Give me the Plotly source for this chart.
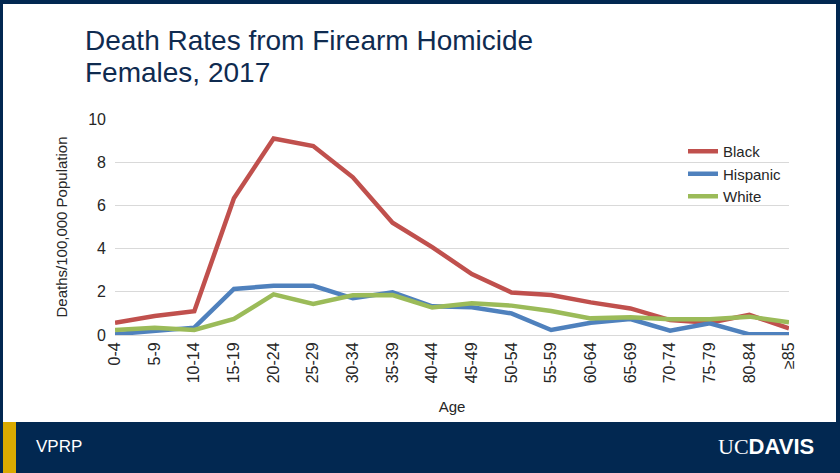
import plotly.graph_objects as go

age_groups = ["0-4", "5-9", "10-14", "15-19", "20-24", "25-29", "30-34", "35-39", "40-44",
              "45-49", "50-54", "55-59", "60-64", "65-69", "70-74", "75-79", "80-84", "≥85"]
black = [0.57, 0.88, 1.10, 6.33, 9.10, 8.75, 7.30, 5.20, 4.07, 2.82, 1.97, 1.85, 1.51, 1.23, 0.69, 0.57, 0.93, 0.31]
hispanic = [0.04, 0.17, 0.34, 2.13, 2.28, 2.28, 1.70, 1.98, 1.33, 1.28, 1.00, 0.23, 0.57, 0.74, 0.20, 0.54, 0.03, 0.03]
white = [0.23, 0.34, 0.23, 0.74, 1.88, 1.44, 1.84, 1.85, 1.27, 1.47, 1.36, 1.11, 0.77, 0.82, 0.73, 0.73, 0.85, 0.59]
series_names = ["Black", "Hispanic", "White"]
series_colors = ["#C0504D", "#4F81BD", "#9BBB59"]

W, H = 840, 473
L, R, T, B = 115, 51, 119, 138
PW, PH = W - L - R, H - T - B

def px_x(px):
    return (px - L) / PW

def px_y(py):
    return (H - B - py) / PH

fig = go.Figure()
for name, vals, col in zip(series_names, [black, hispanic, white], series_colors):
    fig.add_trace(go.Scatter(x=age_groups, y=vals, name=name, mode="lines",
                             line=dict(color=col, width=4.5)))

navy = "#022851"
shapes = [
    dict(type="rect", xref="paper", yref="paper", x0=px_x(0), x1=px_x(W), y0=px_y(4), y1=px_y(0),
         fillcolor=navy, line_width=0, layer="above"),
    dict(type="rect", xref="paper", yref="paper", x0=px_x(0), x1=px_x(3), y0=px_y(H), y1=px_y(0),
         fillcolor=navy, line_width=0, layer="above"),
    dict(type="rect", xref="paper", yref="paper", x0=px_x(836), x1=px_x(W), y0=px_y(H), y1=px_y(0),
         fillcolor=navy, line_width=0, layer="above"),
    dict(type="rect", xref="paper", yref="paper", x0=px_x(0), x1=px_x(W), y0=px_y(H), y1=px_y(422),
         fillcolor=navy, line_width=0, layer="above"),
    dict(type="rect", xref="paper", yref="paper", x0=px_x(3), x1=px_x(16), y0=px_y(H), y1=px_y(422),
         fillcolor="#DAAA00", line_width=0, layer="above"),
]

annotations = [
    dict(text="Death Rates from Firearm Homicide", xref="paper", yref="paper",
         x=px_x(83), y=px_y(40), xanchor="left", yanchor="middle", showarrow=False,
         font=dict(family="Liberation Sans, Arial", size=28, color="#0F2B50")),
    dict(text="Females, 2017", xref="paper", yref="paper",
         x=px_x(83), y=px_y(72), xanchor="left", yanchor="middle", showarrow=False,
         font=dict(family="Liberation Sans, Arial", size=28, color="#0F2B50")),
    dict(text="VPRP", xref="paper", yref="paper",
         x=px_x(34), y=px_y(446), xanchor="left", yanchor="middle", showarrow=False,
         font=dict(family="Liberation Sans, Arial", size=17, color="white")),
    dict(text="<span style='font-family:Liberation Serif'>UC</span><b>DAVIS</b>",
         xref="paper", yref="paper",
         x=px_x(816), y=px_y(446), xanchor="right", yanchor="middle", showarrow=False,
         font=dict(family="Liberation Sans, Arial", size=22, color="white")),
]

fig.update_layout(
    width=W, height=H,
    margin=dict(l=L, r=R, t=T, b=B),
    paper_bgcolor="white", plot_bgcolor="white",
    font=dict(family="Liberation Sans, Arial", size=14, color="#262626"),
    showlegend=True,
    legend=dict(x=px_x(683), y=px_y(135), xanchor="left", yanchor="top",
                bgcolor="rgba(0,0,0,0)", font=dict(size=15, color="#262626"),
                itemwidth=30, tracegroupgap=0),
    shapes=shapes,
    annotations=annotations,
)
fig.update_xaxes(type="category", tickangle=-90, showgrid=False, showline=True,
                 linecolor="#D9D9D9", linewidth=1, ticks="",
                 tickfont=dict(size=16, color="#262626"),
                 title=dict(text="Age", font=dict(size=15, color="#262626"), standoff=19),
                 automargin=False)
fig.update_yaxes(range=[0, 10], dtick=2, showgrid=True, gridcolor="#D9D9D9", gridwidth=1,
                 zeroline=False, showline=False, ticks="", ticklabelstandoff=8,
                 tickfont=dict(size=16, color="#262626"),
                 title=dict(text="Deaths/100,000 Population", font=dict(size=15, color="#262626"), standoff=16),
                 automargin=False)

fig.write_html("out.html", config={"displayModeBar": False},
               post_script="document.body.style.margin='0';document.body.style.padding='0';")
